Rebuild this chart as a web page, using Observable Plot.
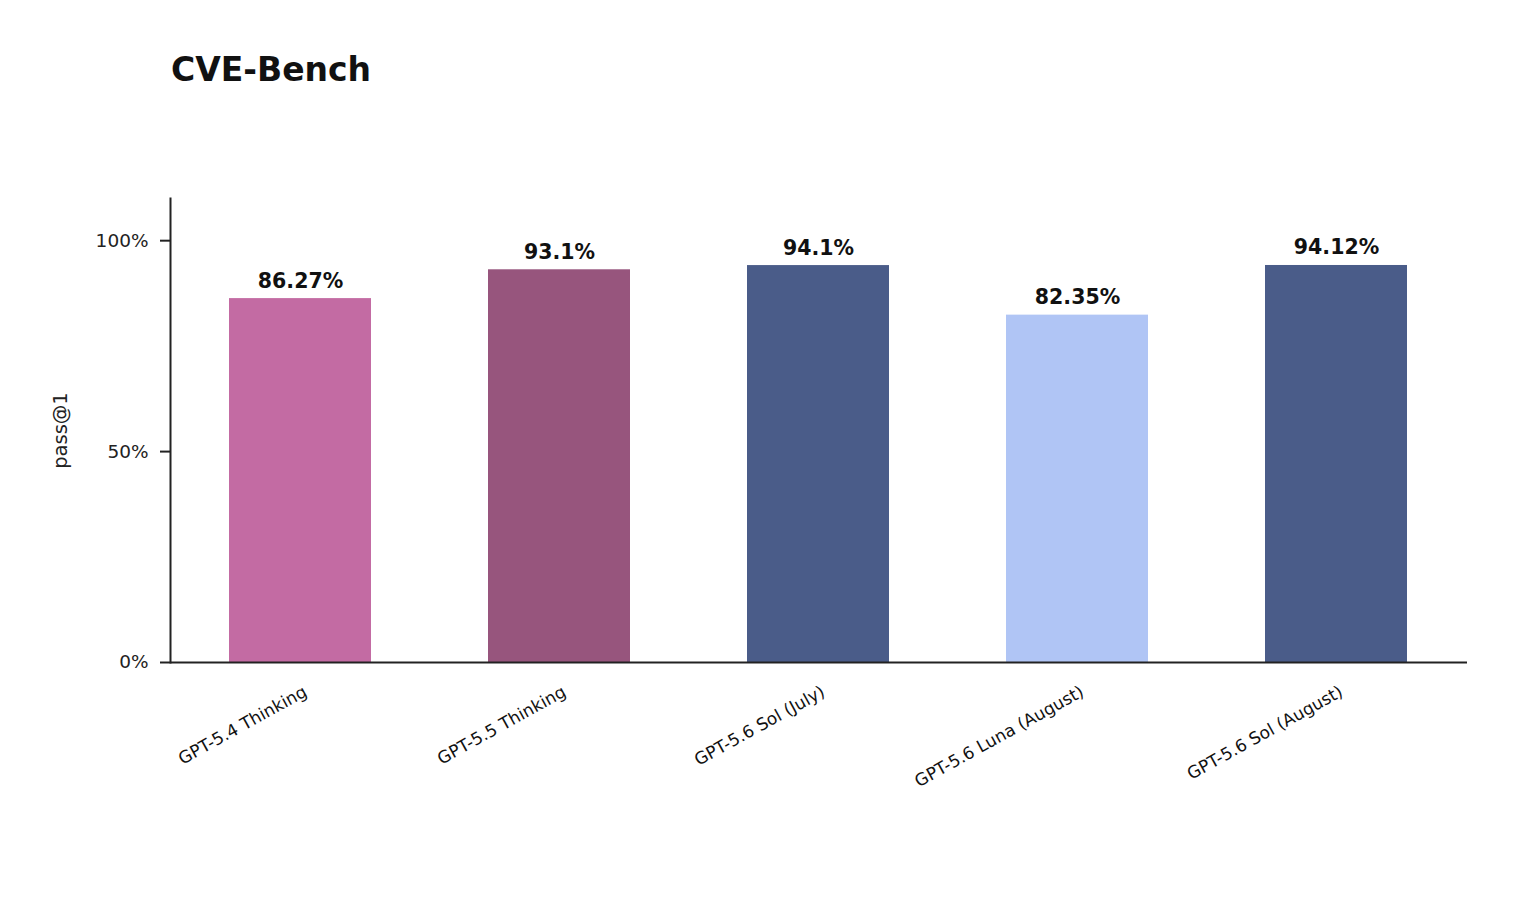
<!DOCTYPE html>
<html>
<head>
<meta charset="utf-8">
<script src="https://cdn.jsdelivr.net/npm/d3@7"></script>
<script src="https://cdn.jsdelivr.net/npm/@observablehq/plot@0.6"></script>
<style>
  html, body { margin: 0; padding: 0; background: #fff; }
  body { width: 1520px; height: 900px; position: relative; font-family: "DejaVu Sans", sans-serif; }
  #title { position: absolute; left: 171px; top: 53px; font-size: 33px; line-height: 33px; font-weight: bold; color: #111; }
  #chart { position: absolute; left: 0; top: 100px; }
</style>
</head>
<body>
<div id="title">CVE-Bench</div>
<div id="chart"></div>
<script>
const models = ["GPT-5.4 Thinking", "GPT-5.5 Thinking", "GPT-5.6 Sol (July)", "GPT-5.6 Luna (August)", "GPT-5.6 Sol (August)"];
const scores = [86.27, 93.1, 94.1, 82.35, 94.12];
const valueLabels = ["86.27%", "93.1%", "94.1%", "82.35%", "94.12%"];
const colors = ["#C36BA3", "#97557D", "#4A5C89", "#B0C5F5", "#4A5C89"];
const yTicks = [0, 50, 100];

const data = models.map((m, i) => ({model: m, score: scores[i], label: valueLabels[i], color: colors[i]}));

const chart = Plot.plot({
  width: 1520,
  height: 800,
  marginTop: 98,
  marginBottom: 238,
  marginLeft: 170,
  marginRight: 53,
  style: {fontFamily: "DejaVu Sans, sans-serif", fontSize: "16px", color: "#222", background: "#fff"},
  x: {domain: models, paddingInner: 0.45, paddingOuter: 0.225, axis: null},
  y: {domain: [0, 110]},
  marks: [
    Plot.barY(data, {x: "model", y: "score", fill: "color"}),
    Plot.text(data, {x: "model", y: "score", text: "label", lineAnchor: "bottom", dy: -11, fontWeight: "bold", fontSize: 20.5, fill: "#111"}),
    Plot.text(data, {x: "model", text: "model", frameAnchor: "bottom", dy: 28, dx: 5, rotate: -29, textAnchor: "end", lineAnchor: "middle", fontSize: 17, fill: "#111"}),
    Plot.axisY({ticks: yTicks, tickFormat: d => d + "%", tickSize: 10, tickPadding: 12, strokeWidth: 2, stroke: "#222", fontSize: 18.5, fill: "#222", label: "pass@1", labelAnchor: "center", labelArrow: "none", labelOffset: 117}),
    Plot.ruleY([0], {stroke: "#222", strokeWidth: 2}),
    Plot.frame({anchor: "left", stroke: "#222", strokeWidth: 2})
  ]
});
document.getElementById("chart").appendChild(chart);
chart.querySelectorAll("g[aria-label='y-axis label'] text, g[aria-label='y-axis label']").forEach(el => el.setAttribute("font-size", "19.5"));
</script>
</body>
</html>
